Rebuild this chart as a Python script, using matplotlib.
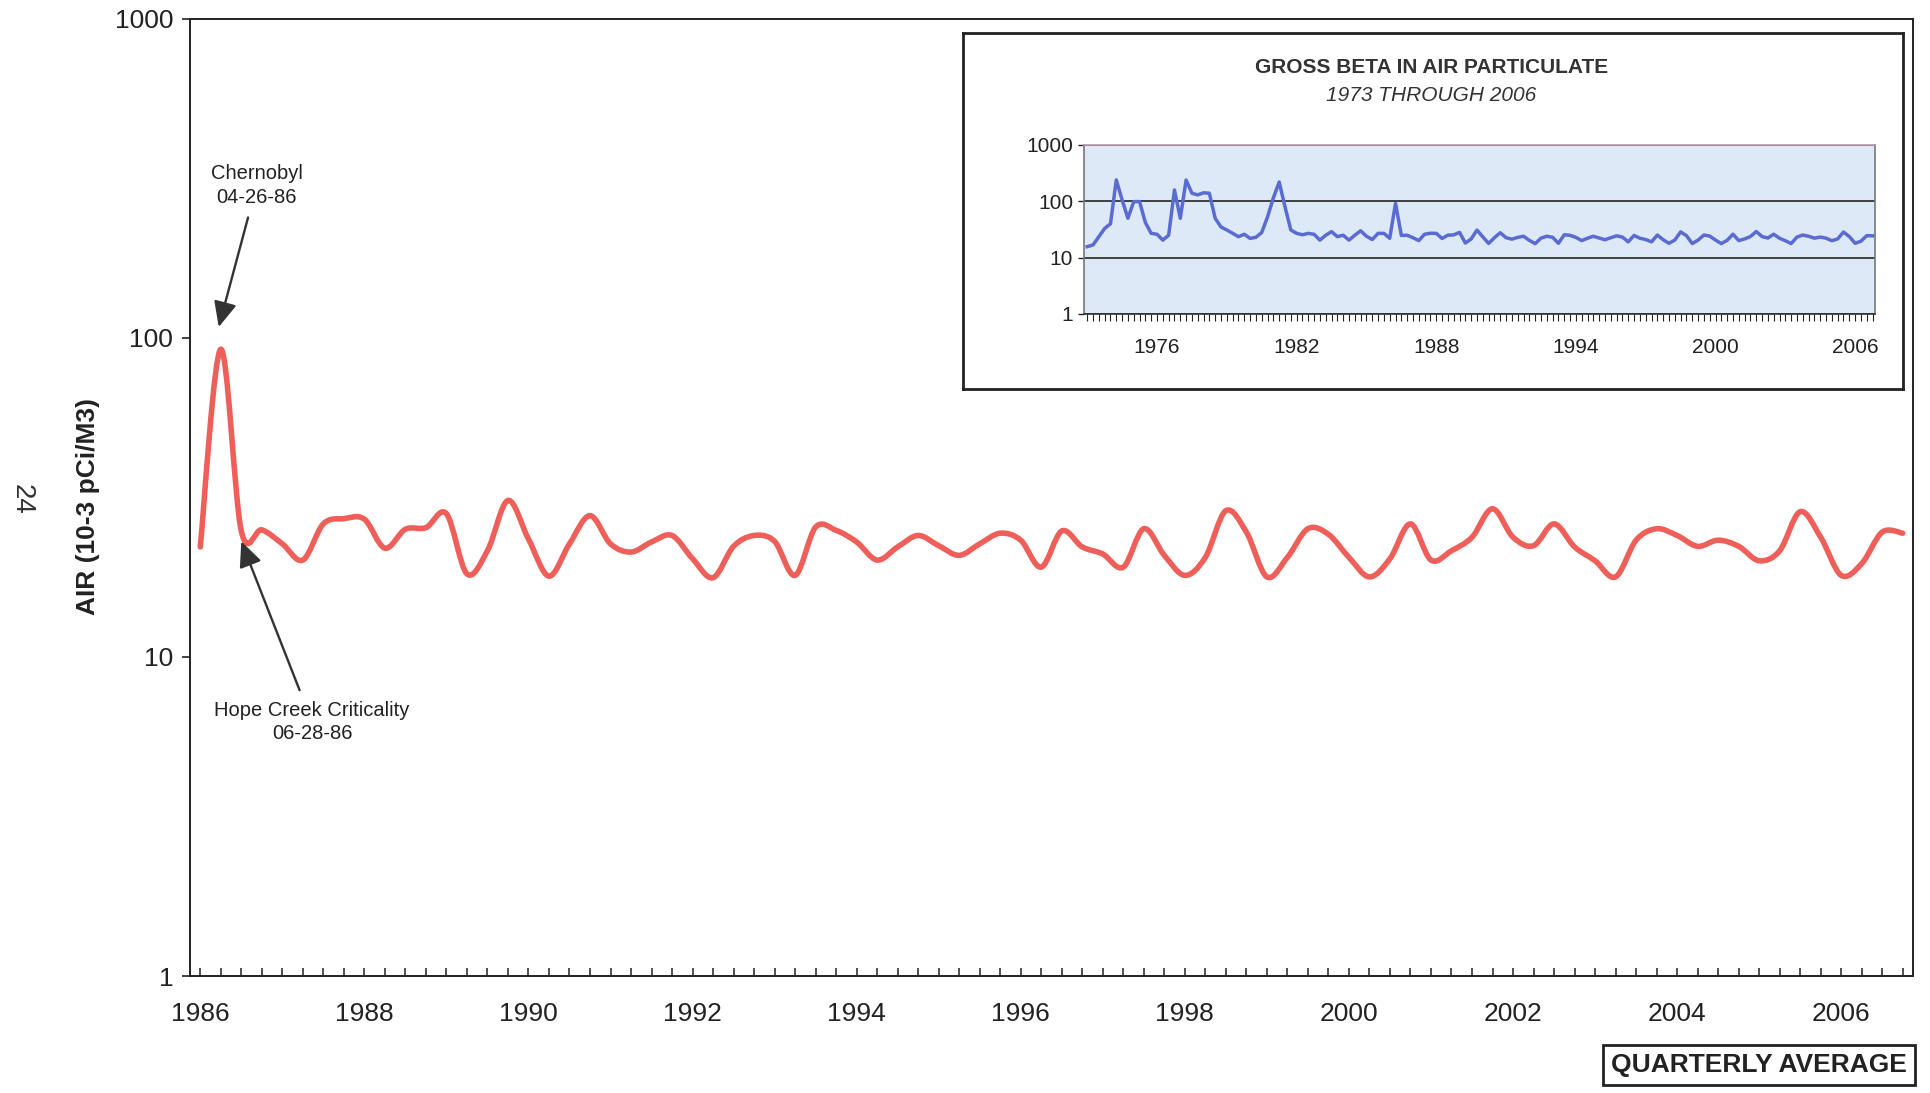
import numpy as np
import matplotlib.pyplot as plt
from matplotlib.path import Path
from matplotlib.patches import PathPatch
from matplotlib import font_manager

plt.rcParams['font.family'] = ['Liberation Sans', 'DejaVu Sans']

# quarterly averages 1986 Q1 - 2006 Q4 (10-3 pCi/m3)
quarterly_values = [
    22.1, 92.0, 24.8, 25.0, 22.6, 20.1, 26.1, 27.1, 27.0, 21.9, 25.1, 25.4,
    28.1, 18.2, 21.5, 30.9, 23.4, 17.9, 22.6, 27.7, 22.6, 21.3, 22.9, 24.0,
    20.3, 17.7, 22.2, 24.0, 23.0, 18.0, 25.5, 24.9, 22.9, 20.1, 22.1, 24.0,
    22.3, 20.8, 22.6, 24.4, 23.2, 19.1, 24.8, 22.1, 21.0, 19.1, 25.2, 20.8,
    18.0, 20.5, 28.7, 24.6, 17.8, 20.5, 25.2, 24.2, 20.5, 17.8, 20.3, 26.1,
    20.1, 21.5, 23.7, 29.1, 23.7, 22.3, 26.1, 22.1, 20.0, 17.8, 23.2, 25.2,
    24.0, 22.2, 23.2, 22.2, 20.0, 21.5, 28.5, 23.7, 18.0, 19.6, 24.6, 24.4,
]

# quarterly averages 1973 Q1 - 1985 Q4 (weapons-test years)
early_values = [
    15.7, 16.8, 23.6, 33.0, 40.0, 240.0, 106.0, 50.0, 99.0, 99.0, 42.0, 27.0,
    26.0, 20.5, 25.0, 159.0, 50.0, 239.0, 139.0, 130.0, 142.0, 139.0, 50.0, 35.0,
    31.0, 27.0, 23.6, 26.0, 22.0, 23.0, 28.0, 53.0, 115.0, 220.0, 80.0, 31.0,
    27.0, 25.5, 27.0, 26.0, 20.5, 25.0, 29.0, 23.6, 25.0, 20.5, 25.0, 30.0,
    24.0, 21.0, 27.0, 27.0,
]

inset_values = early_values + quarterly_values

main_year_labels = ['1986', '1988', '1990', '1992', '1994', '1996',
                    '1998', '2000', '2002', '2004', '2006']
inset_year_labels = ['1976', '1982', '1988', '1994', '2000', '2006']


def smooth_path(xs, ys):
    # Catmull-Rom curve through the points, built in log space so that
    # it bends the same way on screen as a smoothed spreadsheet line
    pts = np.column_stack([np.asarray(xs, float), np.log10(ys)])
    padded = np.vstack([pts[0], pts, pts[-1]])
    verts = [pts[0]]
    codes = [Path.MOVETO]
    for k in range(len(pts) - 1):
        p0, p1, p2, p3 = padded[k:k + 4]
        verts += [p1 + (p2 - p0) / 6, p2 - (p3 - p1) / 6, p2]
        codes += [Path.CURVE4] * 3
    verts = np.array(verts)
    verts[:, 1] = 10 ** verts[:, 1]
    return Path(verts, codes)


names = {f.name for f in font_manager.fontManager.ttflist}
narrow = 'Liberation Sans Narrow' if 'Liberation Sans Narrow' in names else 'Liberation Sans'

fig = plt.figure(figsize=(19.3, 10.93), dpi=100)

# main chart
ax = fig.add_axes([0.09845, 0.10704, 0.89275, 0.87603])
ax.set_yscale('log')
ax.set_ylim(1, 1000)
ax.set_xlim(-0.5, len(quarterly_values) - 0.5)

idx = np.arange(len(quarterly_values))
ax.add_patch(PathPatch(smooth_path(idx, quarterly_values), fill=False,
                       edgecolor='#ef5f5a', lw=4.0, capstyle='round',
                       joinstyle='round', zorder=3))

ax.set_yticks([1, 10, 100, 1000])
ax.set_yticklabels(['1', '10', '100', '1000'])
ax.yaxis.set_minor_locator(plt.NullLocator())
ax.tick_params(axis='y', direction='out', length=6, width=1.2, pad=6,
               labelsize=19, colors='#222222')

ax.set_xticks(idx)
ax.set_xticklabels([main_year_labels[i // 8] if i % 8 == 0 else '' for i in idx])
ax.tick_params(axis='x', direction='in', length=6, width=1.1, pad=19,
               labelsize=19, colors='#222222')

for sp in ax.spines.values():
    sp.set_color('#222222')
    sp.set_linewidth(1.4)

ax.set_ylabel('AIR (10-3 pCi/M3)', family=[narrow, 'DejaVu Sans'],
              fontweight='bold', fontsize=23 if narrow != 'Liberation Sans' else 19,
              color='#222222')
ax.yaxis.set_label_coords(-0.052, 0.49)

arrow = dict(arrowstyle='-|>,head_length=0.55,head_width=0.25', color='#333333',
             lw=1.7, mutation_scale=28, shrinkA=6, shrinkB=0)
ax.annotate('Chernobyl\n04-26-86', xy=(0.9, 108), xytext=(2.75, 300),
            ha='center', va='center', fontsize=14.5, color='#222222',
            linespacing=1.3, arrowprops=arrow)
ax.annotate('Hope Creek Criticality\n06-28-86', xy=(2.0, 23.0), xytext=(5.45, 6.25),
            ha='center', va='center', fontsize=14.5, color='#222222',
            linespacing=1.3, arrowprops=arrow)

# inset frame
frame = fig.add_axes([0.49896, 0.64410, 0.48705, 0.32571], zorder=3)
frame.set_facecolor('white')
frame.set_xticks([])
frame.set_yticks([])
for sp in frame.spines.values():
    sp.set_color('#222222')
    sp.set_linewidth(2)
frame.text(0.4984, 0.9037, 'GROSS BETA IN AIR PARTICULATE', transform=frame.transAxes,
           ha='center', va='center', fontsize=15, fontweight='bold', color='#333333')
frame.text(0.4984, 0.8258, '1973 THROUGH 2006', transform=frame.transAxes,
           ha='center', va='center', fontsize=15, style='italic', color='#333333')

# inset chart of the full record
inset = fig.add_axes([0.56181, 0.71272, 0.40995, 0.15462], zorder=4)
inset.set_facecolor('#dde9f6')
inset.set_yscale('log')
inset.set_ylim(1, 1000)
inset.set_xlim(-0.5, len(inset_values) - 0.5)
inset_idx = np.arange(len(inset_values))
inset.plot(inset_idx, inset_values, color='#5a6bd2', lw=2.5, zorder=3)

inset.set_yticks([1, 10, 100, 1000])
inset.set_yticklabels(['1', '10', '100', '1000'])
inset.yaxis.set_minor_locator(plt.NullLocator())
inset.yaxis.grid(True, color='#333333', lw=1.3)
inset.tick_params(axis='y', direction='out', length=4, width=1, pad=4,
                  labelsize=15, colors='#222222')

inset.set_xticks(inset_idx)
inset.set_xticklabels([inset_year_labels[(i - 12) // 24] if i % 24 == 12 else ''
                       for i in inset_idx])
inset.tick_params(axis='x', direction='out', length=5, width=0.8, pad=12,
                  labelsize=15, colors='#222222')
for sp in inset.spines.values():
    sp.set_color('#777777')
    sp.set_linewidth(1.2)
inset.spines['top'].set_color('#b79aac')
inset.spines['bottom'].set_color('#333333')

fig.text(0.0114, 0.5435, '24', rotation=-90, ha='center', va='center',
         fontsize=20, color='#333333')
fig.text(0.9114, 0.0256, 'QUARTERLY AVERAGE', ha='center', va='center',
         fontsize=19, fontweight='bold', color='#222222', zorder=5,
         bbox=dict(boxstyle='square,pad=0.3', facecolor='white',
                   edgecolor='#222222', lw=2))

fig.savefig('out.png', dpi=100)
